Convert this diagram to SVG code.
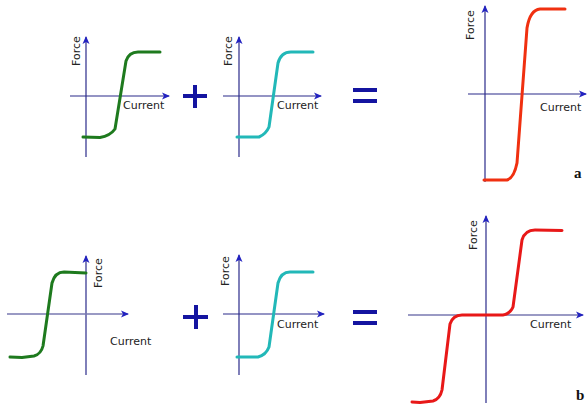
<svg xmlns="http://www.w3.org/2000/svg" width="587" height="409" viewBox="0 0 587 409">
<defs>
<marker id="ah" markerWidth="8" markerHeight="8" refX="7" refY="4" orient="auto" markerUnits="userSpaceOnUse">
<path d="M0,0.5 L8,4 L0,7.5 L2,4 Z" fill="#2222c0"/>
</marker>
</defs>
<style>
.ax{stroke:#2a2a8a;stroke-width:1.2;fill:none}
.axl{stroke:#7878b0;stroke-width:1.3;fill:none}
.g{stroke:#1e7a1e;stroke-width:3;fill:none;stroke-linecap:round;stroke-linejoin:round}
.c{stroke:#22b8b8;stroke-width:3;fill:none;stroke-linecap:round;stroke-linejoin:round}
.r{stroke:#f03010;stroke-width:3;fill:none;stroke-linecap:round;stroke-linejoin:round}
.rb{stroke:#e81818;stroke-width:3;fill:none;stroke-linecap:round;stroke-linejoin:round}
.op{stroke:#1414a0;stroke-width:4;fill:none}
.t{font-family:"DejaVu Sans","Liberation Sans",sans-serif;font-size:11px;fill:#222}
.lb{font-family:"Liberation Serif",serif;font-size:15px;font-weight:bold;fill:#111}
</style>
<rect width="587" height="409" fill="#fff"/>
<g id="connectors">
<line class="ax" x1="86" y1="157" x2="86" y2="37" marker-end="url(#ah)"/>
<line class="ax" x1="70" y1="96" x2="169" y2="96" marker-end="url(#ah)"/>
<line class="ax" x1="239" y1="157" x2="239" y2="37" marker-end="url(#ah)"/>
<line class="ax" x1="223" y1="96" x2="321" y2="96" marker-end="url(#ah)"/>
<line class="ax" x1="485" y1="182" x2="485" y2="6" marker-end="url(#ah)"/>
<line class="ax" x1="468" y1="94" x2="586" y2="94" marker-end="url(#ah)"/>
<line class="ax" x1="86" y1="375" x2="86" y2="256" marker-end="url(#ah)"/>
<line class="axl" x1="7" y1="314" x2="128" y2="314" marker-end="url(#ah)"/>
<line class="ax" x1="239" y1="375" x2="239" y2="255" marker-end="url(#ah)"/>
<line class="ax" x1="223" y1="314" x2="324" y2="314" marker-end="url(#ah)"/>
<line class="ax" x1="486" y1="403" x2="486" y2="216" marker-end="url(#ah)"/>
<line class="axl" x1="408" y1="315" x2="583" y2="315" marker-end="url(#ah)"/>
</g>
<g id="graph-a1">
<path class="g" d="M83,137 L100,137.5 Q110,136 115,129 L126,61 Q129,52 138,52 L160,52"/>
<text class="t" transform="translate(80,66) rotate(-90)">Force</text>
<text class="t" x="123" y="109">Current</text>
</g>
<g id="plus-a">
<path class="op" d="M183,96 L207,96 M195,85 L195,108"/>
</g>
<g id="graph-a2">
<path class="c" d="M237,137 L259,137 Q266,134 269,127 L278,63 Q281,52 291,52 L313,52"/>
<text class="t" transform="translate(232,66) rotate(-90)">Force</text>
<text class="t" x="277" y="109">Current</text>
</g>
<g id="equals-a">
<path class="op" d="M353,90 L377,90 M353,101 L377,101"/>
</g>
<g id="graph-a3">
<path class="r" d="M484,180 L507,180 Q514,178 517,163 L527,28 Q530,10 540,9 L565,9"/>
<text class="t" transform="translate(474,40) rotate(-90)">Force</text>
<text class="t" x="540" y="111">Current</text>
<text class="lb" x="574" y="178">a</text>
</g>
<g id="graph-b1">
<path class="g" d="M10,357 L22,357.5 L34,356 Q41,354 43,346 L52,283 Q55,272 64,272 L86,273"/>
<text class="t" transform="translate(102,288) rotate(-90)">Force</text>
<text class="t" x="110" y="345">Current</text>
</g>
<g id="plus-b">
<path class="op" d="M183,317 L208,317 M196,305 L196,329"/>
</g>
<g id="graph-b2">
<path class="c" d="M237,357 L258,357 Q266,355 269,347 L278,283 Q281,272 290,272 L313,272"/>
<text class="t" transform="translate(229,286) rotate(-90)">Force</text>
<text class="t" x="277" y="328">Current</text>
</g>
<g id="equals-b">
<path class="op" d="M353,312 L377,312 M353,323 L377,323"/>
</g>
<g id="graph-b3">
<path class="rb" d="M412,402 L420,402.5 L433,401 Q440,399 442,390 L450,324 Q453,315 462,315 L503,315 Q510,314 513,307 L522,240 Q525,230 535,230 L562,230.5"/>
<text class="t" transform="translate(477,250) rotate(-90)">Force</text>
<text class="t" x="530" y="328">Current</text>
<text class="lb" x="576" y="400">b</text>
</g>
</svg>
